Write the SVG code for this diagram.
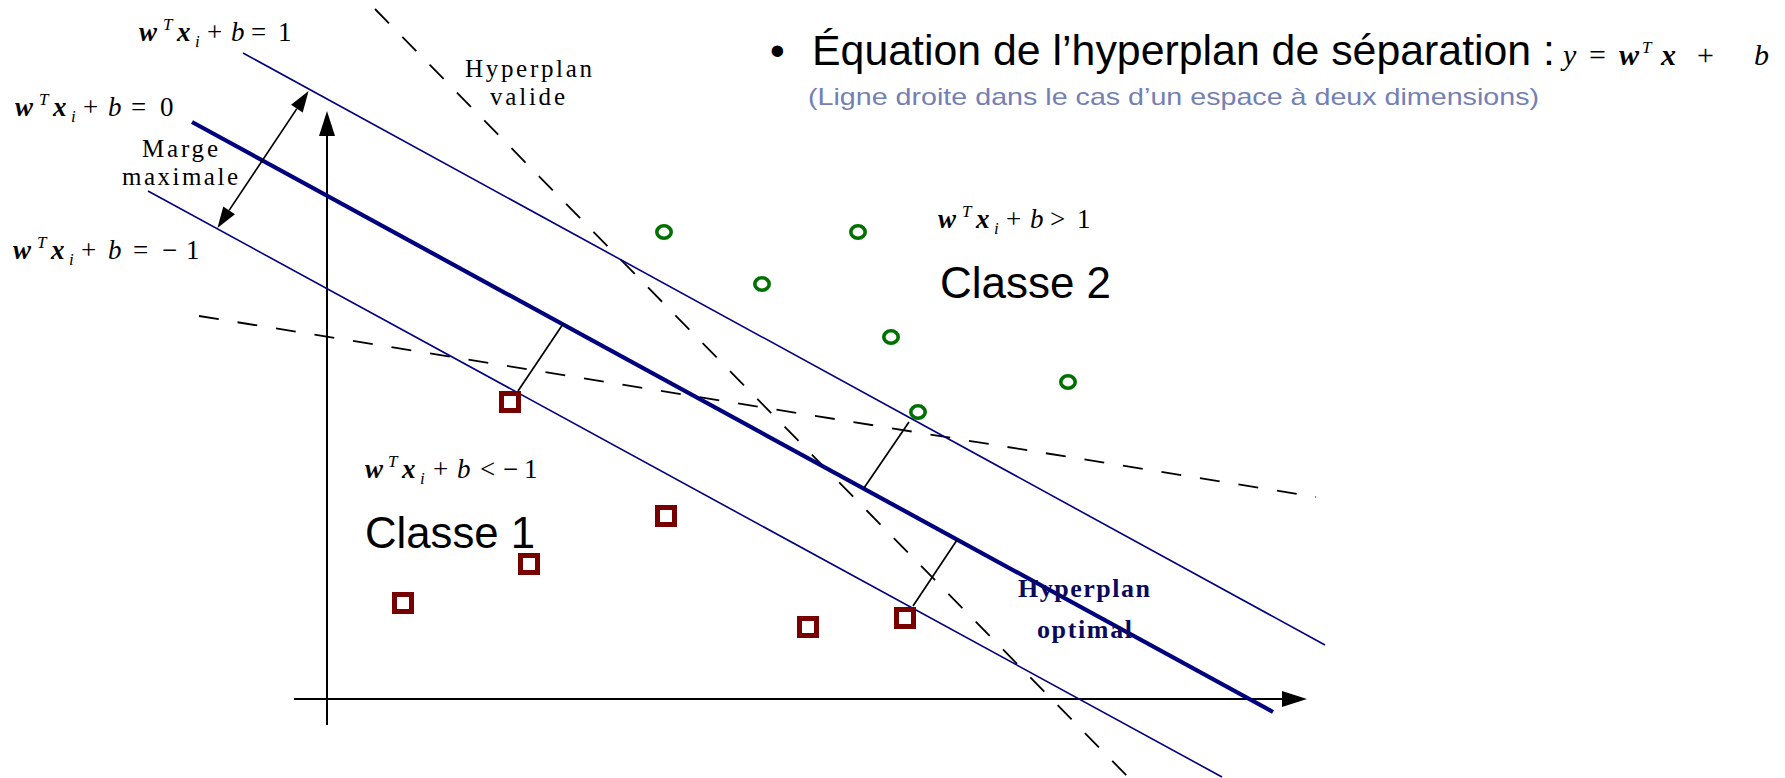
<svg xmlns="http://www.w3.org/2000/svg" width="1785" height="778" viewBox="0 0 1785 778">
<style>
.thin{stroke:#00007f;stroke-width:1.6;fill:none}
.thick{stroke:#00007f;stroke-width:4.2;fill:none}
.dash{stroke:#000;stroke-width:1.8;fill:none;stroke-dasharray:20 19}
.blk{stroke:#000;stroke-width:2;fill:none}
.seg{stroke:#000;stroke-width:1.7;fill:none}
.sq{fill:#fff;stroke:#770000;stroke-width:5}
.ci{fill:none;stroke:#007000;stroke-width:3.6}
.eq{font-family:"Liberation Serif",serif;font-size:27px;fill:#000}
.bi{font-weight:bold;font-style:italic}
.it{font-style:italic}
.sm{font-size:17px;font-style:italic}
.tm{font-family:"Liberation Serif",serif;font-size:25px;fill:#000}
.cal{font-family:"Liberation Sans",Arial,sans-serif;fill:#000}
.opt{font-family:"Liberation Serif",serif;font-size:26px;font-weight:bold;fill:#0a0a5c}
</style>
<defs>
<marker id="ax" markerUnits="userSpaceOnUse" markerWidth="26" markerHeight="18" refX="0" refY="8" orient="auto" overflow="visible">
<path d="M0,0 L25,8 L0,16 z" fill="#000"/>
</marker>
<marker id="ar" markerUnits="userSpaceOnUse" markerWidth="22" markerHeight="16" refX="0" refY="7" orient="auto-start-reverse" overflow="visible">
<path d="M0,0 L21,7 L0,14 z" fill="#000"/>
</marker>
</defs>
<rect width="1785" height="778" fill="#fff"/>

<g id="axes">
<line class="blk" x1="294" y1="699" x2="1282" y2="699" marker-end="url(#ax)"/>
<line class="blk" x1="327" y1="725" x2="327" y2="136" marker-end="url(#ax)"/>
</g>

<g id="connectors">
<line id="valid-hyperplane" class="dash" x1="375" y1="9" x2="1129" y2="778"/>
<line id="other-hyperplane" class="dash" x1="199" y1="316" x2="1316" y2="497"/>
<line id="margin-plus" class="thin" x1="243" y1="53" x2="1325" y2="645"/>
<line id="optimal" class="thick" x1="192" y1="122" x2="1273" y2="712"/>
<line id="margin-minus" class="thin" x1="148" y1="191" x2="1222" y2="777"/>
<line id="margin-arrow" class="seg" x1="296.9" y1="108.6" x2="229.1" y2="210.4" marker-start="url(#ar)" marker-end="url(#ar)"/>
<line class="seg" x1="518" y1="391" x2="563" y2="324"/>
<line class="seg" x1="909" y1="422" x2="864" y2="488"/>
<line class="seg" x1="957" y1="540" x2="913" y2="606"/>
</g>

<g id="class1-points">
<rect class="sq" x="501.5" y="393.5" width="17" height="17"/>
<rect class="sq" x="657.5" y="507.5" width="17" height="17"/>
<rect class="sq" x="520.5" y="555.5" width="17" height="17"/>
<rect class="sq" x="394.5" y="594.5" width="17" height="17"/>
<rect class="sq" x="799.5" y="618.5" width="17" height="17"/>
<rect class="sq" x="896.5" y="609.5" width="17" height="17"/>
</g>

<g id="class2-points">
<ellipse class="ci" cx="664" cy="232" rx="7.2" ry="6.2"/>
<ellipse class="ci" cx="858" cy="232" rx="7.2" ry="6.2"/>
<ellipse class="ci" cx="762" cy="284" rx="7.2" ry="6.2"/>
<ellipse class="ci" cx="891" cy="337" rx="7.2" ry="6.2"/>
<ellipse class="ci" cx="1068" cy="382" rx="7.2" ry="6.2"/>
<ellipse class="ci" cx="918" cy="412" rx="7.2" ry="6.2"/>
</g>

<g id="label-eq1">
<text class="eq" y="41"><tspan x="139" class="bi">w</tspan><tspan x="163" dy="-11" class="sm">T</tspan><tspan x="177" dy="11" class="bi">x</tspan><tspan x="195" dy="6" class="sm">i</tspan><tspan x="207" dy="-6">+</tspan><tspan x="231" class="it">b</tspan><tspan x="251">=</tspan><tspan x="278">1</tspan></text>
</g>
<g id="label-eq0">
<text class="eq" y="116"><tspan x="15" class="bi">w</tspan><tspan x="39" dy="-11" class="sm">T</tspan><tspan x="53" dy="11" class="bi">x</tspan><tspan x="71" dy="6" class="sm">i</tspan><tspan x="83" dy="-6">+</tspan><tspan x="108" class="it">b</tspan><tspan x="131">=</tspan><tspan x="160">0</tspan></text>
</g>
<g id="label-eqm1">
<text class="eq" y="259"><tspan x="13" class="bi">w</tspan><tspan x="37" dy="-11" class="sm">T</tspan><tspan x="51" dy="11" class="bi">x</tspan><tspan x="69" dy="6" class="sm">i</tspan><tspan x="81" dy="-6">+</tspan><tspan x="108" class="it">b</tspan><tspan x="133">=</tspan><tspan x="162">−</tspan><tspan x="186">1</tspan></text>
</g>
<g id="label-gt1">
<text class="eq" y="228"><tspan x="938" class="bi">w</tspan><tspan x="962" dy="-11" class="sm">T</tspan><tspan x="976" dy="11" class="bi">x</tspan><tspan x="994" dy="6" class="sm">i</tspan><tspan x="1006" dy="-6">+</tspan><tspan x="1030" class="it">b</tspan><tspan x="1050">&gt;</tspan><tspan x="1077">1</tspan></text>
</g>
<g id="label-ltm1">
<text class="eq" y="478"><tspan x="365" class="bi">w</tspan><tspan x="388" dy="-11" class="sm">T</tspan><tspan x="402" dy="11" class="bi">x</tspan><tspan x="420" dy="6" class="sm">i</tspan><tspan x="433" dy="-6">+</tspan><tspan x="457" class="it">b</tspan><tspan x="480">&lt;</tspan><tspan x="503">−</tspan><tspan x="524">1</tspan></text>
</g>

<g id="label-marge">
<text class="tm" x="142" y="157" textLength="76" lengthAdjust="spacing">Marge</text>
<text class="tm" x="122" y="185" textLength="116" lengthAdjust="spacing">maximale</text>
</g>
<g id="label-valide">
<text class="tm" x="465" y="77" textLength="127" lengthAdjust="spacing">Hyperplan</text>
<text class="tm" x="490" y="105" textLength="75" lengthAdjust="spacing">valide</text>
</g>
<g id="label-optimal">
<text class="opt" x="1018" y="597" textLength="132" lengthAdjust="spacing">Hyperplan</text>
<text class="opt" x="1037" y="638" textLength="95" lengthAdjust="spacing">optimal</text>
</g>

<g id="class-labels">
<text class="cal" x="940" y="298" font-size="44" textLength="171" lengthAdjust="spacingAndGlyphs">Classe 2</text>
<text class="cal" x="365" y="548" font-size="44" textLength="170" lengthAdjust="spacingAndGlyphs">Classe 1</text>
</g>

<g id="title">
<text class="cal" x="770" y="65" font-size="42">•</text>
<text class="cal" x="812" y="65" font-size="42" textLength="743" lengthAdjust="spacingAndGlyphs">Équation de l’hyperplan de séparation :</text>
<text class="eq" y="65" style="font-size:30px"><tspan x="1563" class="it">y</tspan><tspan x="1589">=</tspan><tspan x="1619" class="bi">w</tspan><tspan x="1642" dy="-12" class="sm">T</tspan><tspan x="1661" dy="12" class="bi">x</tspan><tspan x="1697">+</tspan><tspan x="1754" class="it">b</tspan></text>
<text class="cal" x="808" y="105" font-size="24" textLength="731" lengthAdjust="spacingAndGlyphs" style="fill:#7480b4">(Ligne droite dans le cas d’un espace à deux dimensions)</text>
</g>
</svg>
